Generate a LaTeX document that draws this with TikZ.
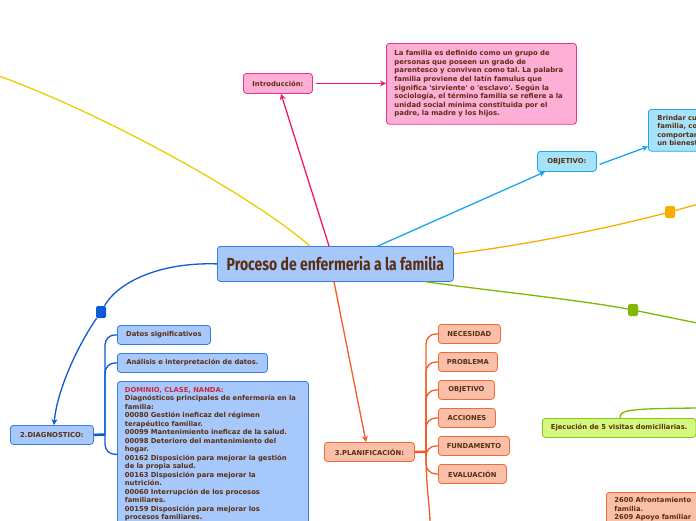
\documentclass[tikz,border=0pt]{standalone}
\usepackage{fontspec}
\setmainfont{DejaVu Sans}
\newfontfamily\titlefont{Fira Sans}
\usetikzlibrary{arrows.meta}
\frenchspacing
\definecolor{txt}{HTML}{5A2E12}
\definecolor{redtxt}{HTML}{D1243A}
\definecolor{cfill}{HTML}{A7C8FA}
\definecolor{cdraw}{HTML}{3A7BE0}
\definecolor{dline}{HTML}{0B5BD3}
\definecolor{pfill}{HTML}{FFAED6}
\definecolor{pdraw}{HTML}{E8338C}
\definecolor{pline}{HTML}{F2156F}
\definecolor{yfill}{HTML}{A6E2FA}
\definecolor{ydraw}{HTML}{1DA8E8}
\definecolor{yline}{HTML}{16A6EE}
\definecolor{goldline}{HTML}{E8D000}
\definecolor{oline}{HTML}{F7B000}
\definecolor{gline}{HTML}{7FB800}
\definecolor{gfill}{HTML}{D5F87E}
\definecolor{gdraw}{HTML}{8BC21C}
\definecolor{sline}{HTML}{F25C24}
\definecolor{sfill}{HTML}{F9BFA8}
\definecolor{sdraw}{HTML}{F26A34}
\newcommand{\fs}{\fontsize{6.8}{8.5}\selectfont\bfseries}
\begin{document}
\begin{tikzpicture}[x=1pt,y=-1pt,
  box/.style={draw, rounded corners=3pt, line width=0.8pt, text=txt, font=\fs, inner sep=0pt, anchor=north west},
  cbox/.style={box, fill=cfill, draw=cdraw},
  pbox/.style={box, fill=pfill, draw=pdraw},
  ybox/.style={box, fill=yfill, draw=ydraw},
  gbox/.style={box, fill=gfill, draw=gdraw},
  sbox/.style={box, fill=sfill, draw=sdraw},
  mtext/.style={align=left, inner xsep=8pt, inner ysep=6pt},
  marker/.style={minimum width=10pt, minimum height=12pt, inner sep=0pt, rounded corners=1.5pt},
  conn/.style={line width=1.3pt},
  tip/.style={-{Stealth[length=6pt,width=6pt]}},
]
\useasboundingbox (0,0) rectangle (696,520);
\clip (0,0) rectangle (696,520);

% nodes
\node[cbox, minimum width=236pt, minimum height=35pt, font=\titlefont\fontsize{14}{14}\selectfont\bfseries] (central) at (217,246) {\scalebox{1}[1.25]{Proceso de enfermeria a la familia}};

\node[pbox, minimum width=69pt, minimum height=20pt] (intro) at (243,73) {Introducción:};
\node[pbox, mtext, text width=174pt, inner ysep=7pt, font=\fontsize{6.9}{8.6}\selectfont\bfseries] (introtxt) at (386,43) {La familia es definido como un grupo de\\personas que poseen un grado de\\parentesco y conviven como tal. La palabra\\familia proviene del latín famulus que\\significa \textquotesingle sirviente\textquotesingle{} o \textquotesingle esclavo\textquotesingle. Según la\\sociología, el término familia se refiere a la\\unidad social mínima constituida por el\\padre, la madre y los hijos.};

\node[ybox, minimum width=59pt, minimum height=20pt] (obj) at (537,151) {OBJETIVO:};
\node[ybox, mtext, text width=80pt, inner xsep=9pt, inner ysep=5.5pt] (objtxt) at (648,109) {Brindar cu\\familia, co\\comportam\\un bienest};

\node[cbox, minimum width=83pt, minimum height=19pt] (diag) at (10,425) {2.DIAGNOSTICO:};
\node[cbox, minimum width=93pt, minimum height=19pt] (datos) at (117,325) {Datos significativos};
\node[cbox, minimum width=150pt, minimum height=19pt] (anal) at (117,353) {Análisis e interpretación de datos.};
\node[cbox, mtext, text width=176pt, inner xsep=7.5pt, inner ysep=6pt] (dom) at (117,381) {\textcolor{redtxt}{DOMINIO, CLASE, NANDA:}\\Diagnósticos principales de enfermería en la\\familia:\\00080 Gestión ineficaz del régimen\\terapéutico familiar.\\00099 Mantenimiento ineficaz de la salud.\\00098 Deterioro del mantenimiento del\\hogar.\\00162 Disposición para mejorar la gestión\\de la propia salud.\\00163 Disposición para mejorar la\\nutrición.\\00060 Interrupción de los procesos\\familiares.\\00159 Disposición para mejorar los\\procesos familiares.};

\node[sbox, minimum width=90pt, minimum height=19pt] (plan) at (324,442) {3.PLANIFICACIÓN:};
\node[sbox, minimum width=62pt, minimum height=19pt] (nec) at (438,324) {NECESIDAD};
\node[sbox, minimum width=59pt, minimum height=19pt] (prob) at (438,352) {PROBLEMA};
\node[sbox, minimum width=56pt, minimum height=19pt] (pobj) at (438,380) {OBJETIVO};
\node[sbox, minimum width=57pt, minimum height=19pt] (acc) at (438,408) {ACCIONES};
\node[sbox, minimum width=71pt, minimum height=19pt] (fund) at (438,436) {FUNDAMENTO};
\node[sbox, minimum width=68pt, minimum height=19pt] (eval) at (438,464) {EVALUACIÓN};

\node[gbox, minimum height=19pt, inner xsep=8.5pt] (ejec) at (542,418) {Ejecución de 5 visitas domiciliarias.};
\node[sbox, mtext, text width=120pt, inner ysep=5pt] (afr) at (606,492) {2600 Afrontamiento\\familia.\\2609 Apoyo familiar};

\node[marker, fill=dline] (m1) at (101,312) {};
\node[marker, fill=oline] (m2) at (670,212) {};
\node[marker, fill=gline] (m3) at (633,310) {};

\coordinate (yend) at (-4,75);
\coordinate (oend) at (702,203);
\coordinate (gend) at (702,324);
\coordinate (eend) at (702,408);
\coordinate (dt) at (105,434.5);
\coordinate (pt) at (426,452);
\coordinate (pend) at (430,524);

% connectors
\draw[conn, pline, tip] ([xshift=112pt]central.north west) -- ([xshift=38pt]intro.south west);
\draw[conn, pline, tip, shorten <=3pt] (intro.east) -- (intro.east -| introtxt.west);
\draw[conn, yline, tip] ([xshift=161pt]central.north west) -- ([xshift=8pt]obj.south west);
\draw[conn, yline, tip, shorten <=3pt] ([yshift=-4pt]obj.east) -- ([yshift=5pt]objtxt.south west);
\draw[conn, goldline] ([xshift=93pt]central.north west) .. controls (245,190) and (90,108) .. (yend);
\draw[conn, oline] ([yshift=10pt]central.east) .. controls (540,243) and (615,226) .. (m2);
\draw[conn, oline] (m2) -- (oend);
\draw[conn, gline] ([xshift=-28pt]central.south east) .. controls (500,292) and (580,300) .. (m3);
\draw[conn, gline] (m3) -- (gend);
\draw[conn, dline] (central.west) .. controls (160,262) and (118,282) .. (m1);
\draw[conn, dline, tip] (m1) .. controls (78,345) and (57,390) .. ([xshift=44pt]diag.north west);
\draw[conn, sline, tip] ([xshift=117pt]central.south west) -- ([xshift=42pt]plan.north west);

\draw[dline, line width=2.5pt] (diag.east) -- (dt);
\foreach \n in {datos, anal, dom} \draw[conn, dline, rounded corners=10pt] (dt) |- (\n.west);

\draw[sline, line width=2.5pt] (plan.east) -- (pt);
\foreach \n in {nec, prob, pobj, acc, fund, eval} \draw[conn, sline, rounded corners=10pt] (pt) |- (\n.west);
\draw[conn, sline] (pt) .. controls (426,490) and (430,505) .. (pend);

\draw[conn, gline] ([xshift=78pt]ejec.north west) .. controls (620,410) and (626,408.5) .. (eend);
\end{tikzpicture}
\end{document}
